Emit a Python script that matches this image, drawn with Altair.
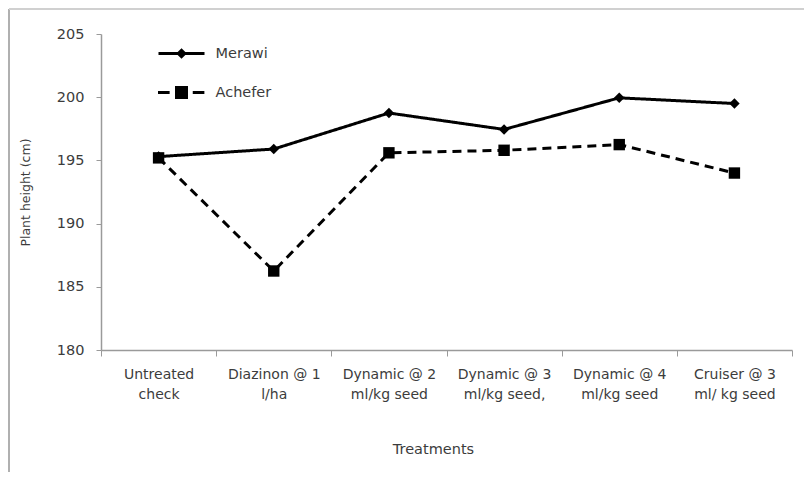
import altair as alt
import pandas as pd

categories = [
    "Untreated\ncheck",
    "Diazinon @ 1\nl/ha",
    "Dynamic @ 2\nml/kg seed",
    "Dynamic @ 3\nml/kg seed,",
    "Dynamic @ 4\nml/kg seed",
    "Cruiser @ 3\nml/ kg seed",
]
series_names = ["Merawi", "Achefer"]
merawi = [195.3, 195.9, 198.75, 197.45, 199.95, 199.5]
achefer = [195.2, 186.25, 195.6, 195.8, 196.25, 194.0]
y_ticks = [180, 185, 190, 195, 200, 205]

rows = []
for c, v in zip(categories, merawi):
    rows.append({"Treatment": c, "Series": "Merawi", "Height": v})
for c, v in zip(categories, achefer):
    rows.append({"Treatment": c, "Series": "Achefer", "Height": v})
df = pd.DataFrame(rows)

FONT = "DejaVu Sans"
LABEL_COLOR = "#3c3c3c"
FS = 14.5

x_enc = alt.X(
    "Treatment:N",
    sort=categories,
    scale=alt.Scale(paddingInner=0, paddingOuter=0),
    axis=alt.Axis(
        title="Treatments",
        labelExpr="split(datum.label, '\\n')",
        labelAngle=0,
        labelFont=FONT,
        labelFontSize=14,
        labelColor=LABEL_COLOR,
        labelLineHeight=20,
        labelPadding=11,
        labelBaseline="top",
        tickBand="extent",
        tickSize=6,
        tickColor="#9a9a9a",
        domainColor="#9a9a9a",
        domainWidth=1.5,
        titleFont=FONT,
        titleFontSize=FS,
        titleFontWeight="normal",
        titleColor=LABEL_COLOR,
        titleX=332,
        titleY=99,
        titleBaseline="middle",
    ),
)
y_enc = alt.Y(
    "Height:Q",
    scale=alt.Scale(domain=[180, 205], nice=False, zero=False),
    axis=alt.Axis(
        title="Plant height (cm)",
        values=y_ticks,
        grid=False,
        labelFont=FONT,
        labelFontSize=FS,
        labelColor=LABEL_COLOR,
        labelPadding=12,
        tickSize=5,
        tickColor="#9a9a9a",
        domainColor="#9a9a9a",
        domainWidth=1.5,
        titleFont=FONT,
        titleFontSize=12.5,
        titleFontWeight="normal",
        titleColor=LABEL_COLOR,
        titleX=-76,
        titleY=158,
        titleBaseline="middle",
    ),
)

# legend symbols (stroke-only paths): line segment(s) with the series marker in the middle
merawi_path = (
    "M-1.84,0H1.84"
    "M0,-0.26L0.26,0L0,0.26L-0.26,0Z"
    "M0,-0.2V0.2"
)
achefer_path = (
    "M-1.88,0H-0.95M0.9,0H1.83"
    "M-0.4,-0.4H0.4V0.4H-0.4Z"
    "M-0.4,-0.18H0.4M-0.4,0H0.4M-0.4,0.18H0.4"
)

lines = alt.Chart(df).mark_line(color="black", strokeWidth=3).encode(
    x=x_enc,
    y=y_enc,
    strokeDash=alt.StrokeDash(
        "Series:N",
        scale=alt.Scale(domain=series_names, range=[[1, 0], [9, 6]]),
        legend=None,
    ),
)

points = alt.Chart(df).mark_point(filled=True, opacity=1, color="black").encode(
    x=x_enc,
    y=y_enc,
    shape=alt.Shape(
        "Series:N",
        scale=alt.Scale(domain=series_names, range=["diamond", "square"]),
        legend=None,
    ),
    size=alt.Size(
        "Series:N",
        scale=alt.Scale(domain=series_names, range=[110, 130]),
        legend=None,
    ),
)

legend_layer = (
    alt.Chart(df)
    .transform_filter("false")
    .mark_point(filled=False, color="black", strokeWidth=3)
    .encode(
        x=x_enc,
        y=y_enc,
        shape=alt.Shape(
            "Series:N",
            scale=alt.Scale(domain=series_names, range=[merawi_path, achefer_path]),
            legend=alt.Legend(
                title=None,
                orient="none",
                legendX=66.5,
                legendY=5.5,
                symbolSize=625,
                symbolStrokeWidth=3,
                symbolStrokeColor="black",
                symbolOpacity=1,
                labelOffset=20,
                labelFont=FONT,
                labelFontSize=FS,
                labelColor=LABEL_COLOR,
                rowPadding=15,
                padding=0,
            ),
        ),
    )
)

frame_left = alt.Chart(df).mark_rule(color="#b0b0b0", strokeWidth=2).encode(
    x=alt.value(-92), y=alt.value(-25), y2=alt.value(470)
)
frame_top = alt.Chart(df).mark_rule(color="#d0d0d0", strokeWidth=2).encode(
    x=alt.value(-92), x2=alt.value(703), y=alt.value(-25)
)

chart = (
    alt.layer(frame_left, frame_top, lines, points, legend_layer)
    .resolve_scale(shape="independent", size="independent")
    .properties(
        width=691,
        height=316,
        autosize=alt.AutoSizeParams(type="none"),
        padding={"left": 93, "top": 26, "right": 12, "bottom": 122},
        background="white",
    )
    .configure_view(stroke=None)
)

chart.save("out.html", embed_options={"renderer": "svg", "actions": False})
